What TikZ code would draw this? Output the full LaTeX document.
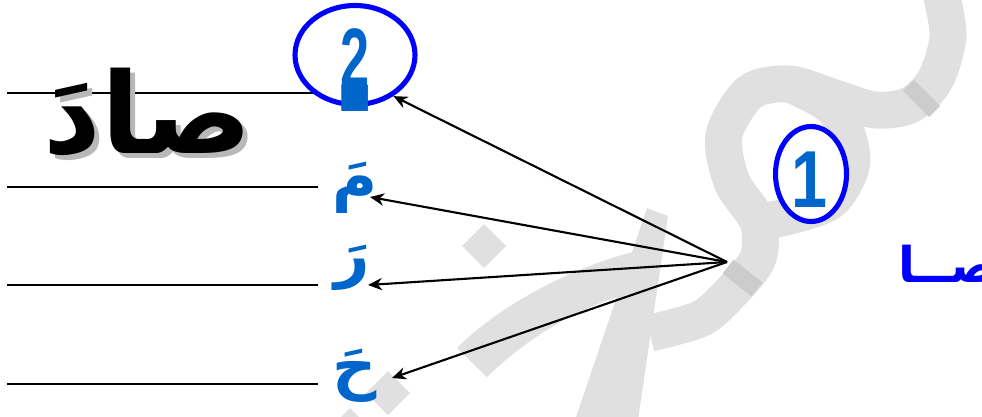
\documentclass[tikz,border=0pt]{standalone}
\usepackage{fontspec}
\usetikzlibrary{shapes,arrows.meta}
\newfontfamily\arabicfont[Script=Arabic]{DejaVu Sans}
\newfontfamily\digitfont{Liberation Sans}
\TeXXeTstate=1
\definecolor{wmgray}{RGB}{224,224,224}
\definecolor{wmdark}{RGB}{204,204,204}
\definecolor{letterblue}{RGB}{0,102,204}
\definecolor{ringblue}{RGB}{0,0,255}
\tikzstyle{watermark}=[line width=21pt, wmgray]
\tikzstyle{ring}=[draw=ringblue, line width=2.9pt, ellipse, fill=white, inner sep=0pt]
\tikzstyle{letter}=[text=letterblue, font=\arabicfont\bfseries\fontsize{35}{35}\selectfont, inner sep=0pt]
\tikzstyle{digit}=[text=letterblue, font=\digitfont\bfseries\fontsize{40}{40}\selectfont, inner sep=0pt]
\tikzstyle{rule}=[line width=0.8pt]
\tikzstyle{pointer}=[line width=1.2pt, -{Stealth[length=8pt,width=7pt]}]

\begin{document}
\begin{tikzpicture}[x=0.02cm,y=-0.02cm]
	\useasboundingbox (0,0) rectangle (982,416);
	\draw[watermark] plot[smooth] coordinates {(938,-20) (948,35) (935,80) (910,105) (875,110) (835,98) (790,84) (750,92) (724,135) (732,182) (758,222) (758,258) (735,288) (702,318) (650,333)};
	\draw[watermark] plot[smooth] coordinates {(790,84) (835,110) (852,160) (832,200) (790,216) (758,222)};
	\draw[line width=21pt, wmdark] (927,93) -- (916,104);
	\draw[line width=21pt, wmdark] (748,271) -- (737,285);
	\fill[wmgray] (647,208) -- (668,216) -- (638,420) -- (575,420) -- cycle;
	\fill[wmgray] (633,252) .. controls (570,268) and (500,305) .. (457,348) -- (487,377) .. controls (530,335) and (590,300) .. (637,293) -- cycle;
	\fill[wmgray] (484,224) -- (506,246) -- (484,268) -- (462,246) -- cycle;
	\fill[wmgray] (388,371) -- (410,393) -- (388,415) -- (366,393) -- cycle;
	\fill[wmgray] (350,408) -- (370,428) -- (350,448) -- (330,428) -- cycle;
	\foreach \y in {93,187,285,384}
		\draw[rule] (7,\y) -- (318,\y);
	\node[text=black!28, font=\arabicfont\bfseries\fontsize{64}{64}\selectfont] at (153,117) {\beginR صادَ\endR};
	\node (sad) [font=\arabicfont\bfseries\fontsize{64}{64}\selectfont] at (148,112) {\beginR صادَ\endR};
	\node (two) [ring, minimum width=2.4cm, minimum height=1.98cm] at (355,55) {};
	\node (twodigit) [digit, font=\digitfont\bfseries\fontsize{48}{48}\selectfont] at (355,58) {\scalebox{0.62}[1]{2}};
	\node (twobar) [letter, font=\arabicfont\bfseries\fontsize{30}{30}\selectfont] at (355,98) {\scalebox{1.4}[4]{ـ}};
	\node (one) [ring, minimum width=1.42cm, minimum height=1.9cm] at (811,174) {};
	\node (onedigit) [digit, font=\digitfont\bfseries\fontsize{46}{46}\selectfont] at (809,180) {\scalebox{0.8}[1]{1}};
	\node (mim) [letter] at (355,188) {\beginR مَ\endR};
	\node (ra) [letter] at (352,268) {\beginR رَ\endR};
	\node (ha) [letter] at (355,376) {\beginR حَ\endR};
	\node (saa) [text=ringblue, font=\arabicfont\bfseries\fontsize{28}{28}\selectfont, anchor=base west, inner sep=0pt] at (898,282) {\beginR صــا\endR};
	\coordinate (hub) at (727,262);
	\coordinate (tipmim) at (370,197);
	\coordinate (tipra) at (368,285);
	\coordinate (tipha) at (392,378);
	\draw[pointer] (hub) -- (two.-47);
	\draw[pointer] (hub) -- (tipmim);
	\draw[pointer] (hub) -- (tipra);
	\draw[pointer] (hub) -- (tipha);
\end{tikzpicture}
\end{document}
